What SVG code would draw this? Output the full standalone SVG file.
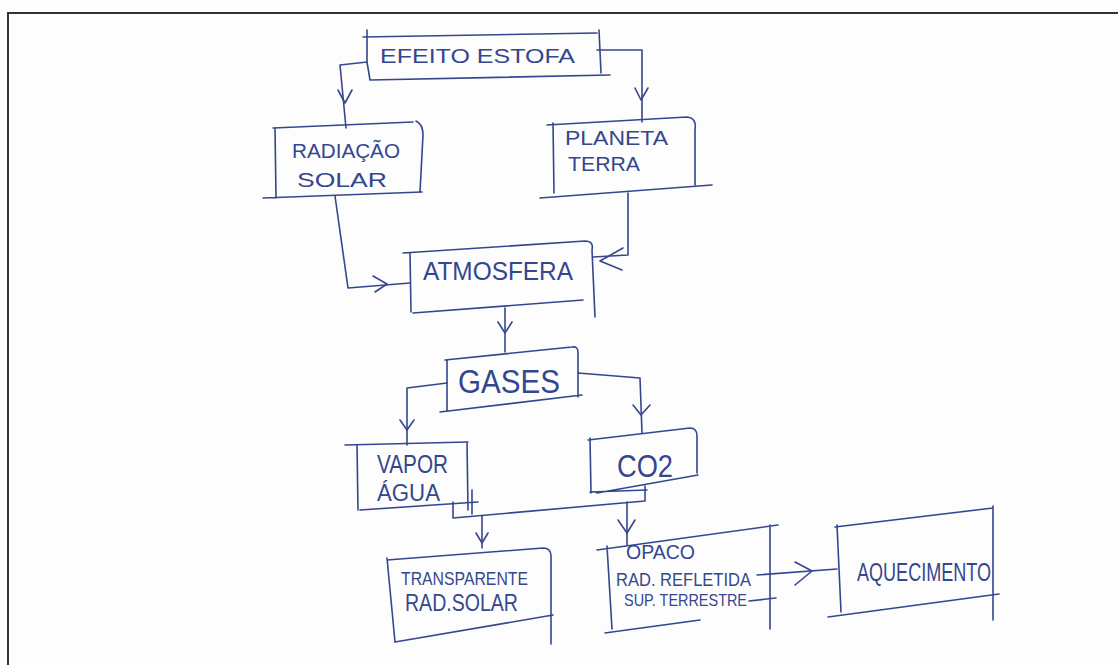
<svg xmlns="http://www.w3.org/2000/svg" width="1118" height="665" viewBox="0 0 1118 665">
<style>
.pen{fill:none;stroke:#34478e;stroke-width:1.6;stroke-linecap:round;stroke-linejoin:round}
.t{fill:#34478e;font-family:"Liberation Sans","DejaVu Sans",sans-serif}
.frame{fill:none;stroke:#333;stroke-width:2}
</style>
<rect x="0" y="0" width="1118" height="665" fill="#fdfdfd"/>
<path class="frame" d="M8,665 L8,13 L1118,13"/>

<g id="connectors" class="pen">
  <!-- efeito -> radiacao -->
  <path d="M367,62 L340,65 L346,128"/>
  <path d="M338,90 L345,103 L352,90"/>
  <!-- efeito -> planeta -->
  <path d="M597,50 L642,50 L642,122"/>
  <path d="M635,88 L641,100 L648,88"/>
  <!-- radiacao -> atmosfera -->
  <path d="M335,196 L348,288 L410,283"/>
  <path d="M373,276 L387,284 L375,292"/>
  <!-- planeta -> atmosfera -->
  <path d="M628,193 L628,255 L593,257"/>
  <path d="M623,248 L600,261 L622,270"/>
  <!-- atmosfera -> gases -->
  <path d="M505,308 L505,352"/>
  <path d="M498,322 L505,333 L512,322"/>
  <!-- gases -> vapor -->
  <path d="M447,383 L407,388 L407,445"/>
  <path d="M400,420 L407,430 L414,420"/>
  <!-- gases -> co2 -->
  <path d="M578,373 L640,378 L642,433"/>
  <path d="M633,405 L641,415 L650,405"/>
  <!-- vapor + co2 join -->
  <path d="M453,502 L453,518 L645,501 L645,486"/>
  <path d="M472,490 L472,514"/>
  <!-- -> transparente -->
  <path d="M482,516 L482,548"/>
  <path d="M476,533 L482,543 L488,533"/>
  <!-- -> opaco -->
  <path d="M627,502 L627,545"/>
  <path d="M618,520 L627,533 L635,520"/>
  <!-- opaco -> aquecimento -->
  <path d="M757,575 L837,569"/>
  <path d="M795,562 L812,571 L795,585"/>
</g>

<g id="efeito-estofa">
  <path class="pen" d="M363,37 L597,33 M367,30 L367,62 L370,80 M370,80 L610,75 M599,30 L601,73"/>
  <text class="t" x="380" y="63" font-size="21" textLength="195" lengthAdjust="spacingAndGlyphs">EFEITO ESTOFA</text>
</g>

<g id="radiacao-solar">
  <path class="pen" d="M273,128 L413,122 M275,128 L276,198 M416,121 Q423,124 423,135 L420,192 M263,198 L422,192"/>
  <text class="t" x="292" y="158" font-size="21" textLength="108" lengthAdjust="spacingAndGlyphs">RADIAÇÃO</text>
  <text class="t" x="297" y="187" font-size="21" textLength="90" lengthAdjust="spacingAndGlyphs">SOLAR</text>
</g>

<g id="planeta-terra">
  <path class="pen" d="M547,125 L687,117 Q697,118 695,130 L695,185 M553,123 L554,193 M540,198 L712,185"/>
  <text class="t" x="565" y="145" font-size="21" textLength="103" lengthAdjust="spacingAndGlyphs">PLANETA</text>
  <text class="t" x="568" y="171" font-size="21" textLength="72" lengthAdjust="spacingAndGlyphs">TERRA</text>
</g>

<g id="atmosfera">
  <path class="pen" d="M403,253 L585,241 Q594,241 592,250 L595,317 M410,253 L411,312 M413,313 L583,300"/>
  <text class="t" x="423" y="280" font-size="26" textLength="150" lengthAdjust="spacingAndGlyphs">ATMOSFERA</text>
</g>

<g id="gases">
  <path class="pen" d="M445,360 L572,347 Q578,346 578,352 L578,397 M447,360 L447,410 M440,412 L582,395"/>
  <text class="t" x="458" y="393" font-size="34" textLength="102" lengthAdjust="spacingAndGlyphs">GASES</text>
</g>

<g id="vapor-agua">
  <path class="pen" d="M345,445 L468,442 M357,445 L358,510 M467,442 L468,510 M360,510 L478,502"/>
  <text class="t" x="377" y="473" font-size="26" textLength="71" lengthAdjust="spacingAndGlyphs">VAPOR</text>
  <text class="t" x="377" y="501" font-size="23" textLength="63" lengthAdjust="spacingAndGlyphs">ÁGUA</text>
</g>

<g id="co2">
  <path class="pen" d="M588,440 L690,428 Q697,428 697,436 L697,473 M590,438 L591,493 M597,493 L698,475 M590,492 L647,490"/>
  <text class="t" x="617" y="477" font-size="32" textLength="56" lengthAdjust="spacingAndGlyphs">CO2</text>
</g>

<g id="transparente">
  <path class="pen" d="M387,560 L543,548 Q551,548 551,556 L551,644 M387,558 L395,642 M395,642 L553,615"/>
  <text class="t" x="401" y="585" font-size="19" textLength="127" lengthAdjust="spacingAndGlyphs">TRANSPARENTE</text>
  <text class="t" x="405" y="611" font-size="23" textLength="113" lengthAdjust="spacingAndGlyphs">RAD.SOLAR</text>
</g>

<g id="opaco">
  <path class="pen" d="M597,550 L778,525 M607,546 L612,629 M770,525 L770,629 M605,633 L612,632 M612,632 L700,620 M749,601 L776,598"/>
  <text class="t" x="626" y="559" font-size="21" textLength="69" lengthAdjust="spacingAndGlyphs">OPACO</text>
  <text class="t" x="616" y="586" font-size="19" textLength="135" lengthAdjust="spacingAndGlyphs">RAD. REFLETIDA</text>
  <text class="t" x="624" y="606" font-size="17" textLength="123" lengthAdjust="spacingAndGlyphs">SUP. TERRESTRE</text>
</g>

<g id="aquecimento">
  <path class="pen" d="M835,527 L993,508 M837,525 L841,612 M993,506 L993,620 M828,617 L999,594"/>
  <text class="t" x="857" y="581" font-size="26" textLength="134" lengthAdjust="spacingAndGlyphs">AQUECIMENTO</text>
</g>
</svg>
